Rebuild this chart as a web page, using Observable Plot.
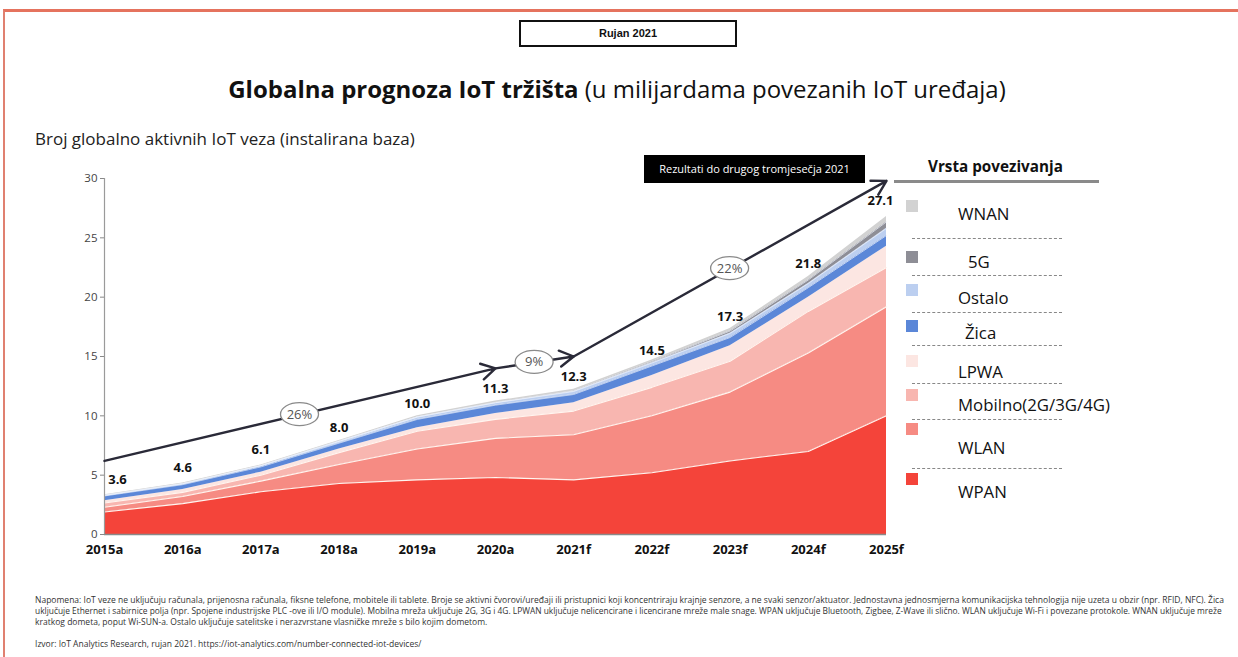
<!DOCTYPE html>
<html>
<head>
<meta charset="utf-8">
<script src="https://cdn.jsdelivr.net/npm/d3@7"></script>
<script src="https://cdn.jsdelivr.net/npm/@observablehq/plot@0.6"></script>
<style>
  html, body { margin: 0; padding: 0; background: #fff; }
  #page { position: relative; width: 1238px; height: 657px; overflow: hidden; font-family: "Open Sans", "Noto Sans", sans-serif; color: #111; }
  .abs { position: absolute; white-space: nowrap; }
  #frame { position: absolute; left: 3px; top: 9px; width: 1240px; height: 660px; border-top: 3px solid #e5735e; border-left: 2px solid #e08070; box-sizing: border-box; }
  #date { left: 519px; top: 20px; width: 218px; height: 27px; border: 2px solid #111; box-sizing: border-box; text-align: center; font-size: 11px; font-weight: bold; line-height: 23px; font-family: "Liberation Sans Narrow", "Liberation Sans", sans-serif; }
  #title { top: 72px; font-size: 24px; }
  #title b { font-weight: bold; }
  #subtitle { left: 35px; top: 127px; font-size: 15px; color: #222; }
  #note { left: 644px; top: 155px; width: 221px; height: 28px; background: #000; color: #fff; font-size: 11px; text-align: center; line-height: 28px; }
  #legtitle { top: 156px; font-size: 15px; font-weight: bold; }
  #legline { left: 894px; top: 180px; width: 205px; height: 3px; background: #8a8a8a; }
  .sq { position: absolute; width: 12px; height: 12px; left: 906px; }
  .lab { position: absolute; font-size: 16.8px; color: #111; white-space: nowrap; transform: translateY(-50%); }
  .dash { position: absolute; left: 912px; width: 150px; border-top: 1px dashed #888; height: 0; }
  .foot { position: absolute; left: 35px; font-size: 8px; color: #333; white-space: nowrap; font-family: "Open Sans", sans-serif; }
  #chart { position: absolute; left: 0; top: 160px; }
</style>
</head>
<body>
<div id="page">
  <div id="frame"></div>
  <div id="date" class="abs">Rujan 2021</div>
  <div id="title" class="abs"><b>Globalna prognoza IoT tržišta</b> (u milijardama povezanih IoT uređaja)</div>
  <div id="subtitle" class="abs">Broj globalno aktivnih IoT veza (instalirana baza)</div>
  <div id="chart"></div>
  <div id="note" class="abs">Rezultati do drugog tromjesečja 2021</div>
  <div id="legtitle" class="abs">Vrsta povezivanja</div>
  <div id="legline" class="abs"></div>
  <div id="legend"></div>
  <div id="footer"></div>
</div>
<script>
// ---------- data ----------
const years = ["2015a","2016a","2017a","2018a","2019a","2020a","2021f","2022f","2023f","2024f","2025f"];
const totals = [3.6, 4.6, 6.1, 8.0, 10.0, 11.3, 12.3, 14.5, 17.3, 21.8, 27.1];

const WPAN    = [1.9, 2.6, 3.6, 4.3, 4.6, 4.8, 4.6, 5.2, 6.2, 7.0, 10.0];
const WLAN    = [0.4, 0.6, 0.9, 1.6, 2.6, 3.3, 3.8, 4.8, 5.8, 8.3, 9.2];
const Mobilno = [0.35, 0.35, 0.5, 1.0, 1.5, 1.6, 2.0, 2.4, 2.6, 3.5, 3.3];
const LPWA    = [0.2, 0.25, 0.25, 0.3, 0.3, 0.5, 0.7, 1.0, 1.3, 1.2, 1.8];
const Zica    = [0.4, 0.4, 0.45, 0.5, 0.7, 0.7, 0.7, 0.8, 0.7, 0.8, 0.9];
const Ostalo  = [0.05, 0.08, 0.1, 0.15, 0.2, 0.2, 0.25, 0.25, 0.35, 0.35, 0.6];
const G5      = [0, 0, 0, 0, 0, 0.02, 0.05, 0.1, 0.2, 0.3, 0.55];
const WNAN    = [0.05, 0.05, 0.05, 0.08, 0.1, 0.12, 0.15, 0.15, 0.2, 0.3, 0.45];

const seriesNames  = ["WPAN", "WLAN", "Mobilno(2G/3G/4G)", "LPWA", "Žica", "Ostalo", "5G", "WNAN"];
const seriesValues = [WPAN, WLAN, Mobilno, LPWA, Zica, Ostalo, G5, WNAN];
const seriesColors = ["#f4443a", "#f68b83", "#f8b6b0", "#fce6e2", "#5b87d8", "#bccff0", "#8e8e96", "#d2d2d2"];

// trend arrow (index of year, value)
const trendX = [0, 5, 6, 10];
const trendY = [6.2, 14.0, 15.0, 29.8];
const growth = ["26%", "9%", "22%"];

const yTicks = [0, 5, 10, 15, 20, 25, 30];

const footLines = [
  "Napomena: IoT veze ne uključuju računala, prijenosna računala, fiksne telefone, mobitele ili tablete. Broje se aktivni čvorovi/uređaji ili pristupnici koji koncentriraju krajnje senzore, a ne svaki senzor/aktuator. Jednostavna jednosmjerna komunikacijska tehnologija nije uzeta u obzir (npr. RFID, NFC). Žica",
  "uključuje Ethernet i sabirnice polja (npr. Spojene industrijske PLC -ove ili I/O module). Mobilna mreža uključuje 2G, 3G i 4G. LPWAN uključuje nelicencirane i licencirane mreže male snage. WPAN uključuje Bluetooth, Zigbee, Z-Wave ili slično. WLAN uključuje Wi-Fi i povezane protokole. WNAN uključuje mreže",
  "kratkog dometa, poput Wi-SUN-a. Ostalo uključuje satelitske i nerazvrstane vlasničke mreže s bilo kojim dometom.",
  "Izvor: IoT Analytics Research, rujan 2021. https://iot-analytics.com/number-connected-iot-devices/"
];

// ---------- build tidy table ----------
const tidy = [];
seriesNames.forEach((name, s) => {
  seriesValues[s].forEach((v, i) => tidy.push({i, type: name, value: v}));
});
// cumulative tops for separator lines
const tops = [];
seriesNames.forEach((name, s) => {
  years.forEach((_, i) => {
    let c = 0;
    for (let k = 0; k <= s; k++) c += seriesValues[k][i];
    tops.push({i, type: name, s, top: c});
  });
});
const totalRows = totals.map((t, i) => ({i, t}));
const arrows = trendX.slice(0, -1).map((x, k) => ({x1: x, y1: trendY[k], x2: trendX[k + 1], y2: trendY[k + 1]}));
const growthRows = growth.map((g, k) => ({
  g,
  x: (trendX[k] + trendX[k + 1]) / 2,
  y: (trendY[k] + trendY[k + 1]) / 2
}));

const ellipseMark = (index, scales) => {
  const g = d3.create("svg:g");
  growthRows.forEach(d => {
    const cx = scales.x(d.x), cy = scales.y(d.y);
    g.append("ellipse").attr("cx", cx).attr("cy", cy).attr("rx", 19).attr("ry", 11.5)
      .attr("fill", "#fff").attr("stroke", "#8a8a8a").attr("stroke-width", 1.3);
    g.append("text").attr("x", cx).attr("y", cy).attr("dy", "0.35em").attr("text-anchor", "middle")
      .attr("font-size", 13).attr("fill", "#555").attr("font-family", "Open Sans, sans-serif").text(d.g);
  });
  return g.node();
};

const chart = Plot.plot({
  width: 930,
  height: 420,
  marginLeft: 104,
  marginRight: 44,
  marginTop: 18,
  marginBottom: 46,
  style: {fontFamily: "Open Sans, sans-serif", fontSize: "11.5px", color: "#333", background: "transparent", overflow: "visible"},
  x: {domain: [0, 10], ticks: d3.range(11), tickFormat: i => years[i], tickSize: 0, tickPadding: 10, label: null},
  y: {domain: [0, 30], ticks: yTicks, tickSize: 4, tickPadding: 3, label: null},
  color: {domain: seriesNames, range: seriesColors},
  marks: [
    Plot.areaY(tidy, {x: "i", y: "value", z: "type", fill: "type", order: seriesNames}),
    Plot.lineY(tops.filter(d => d.s <= 2), {x: "i", y: "top", z: "type", stroke: "#fff6f0", strokeWidth: 1.1}),
    Plot.lineY(tops.filter(d => d.s >= 4 && d.s <= 6), {x: "i", y: "top", z: "type", stroke: "#eef2fa", strokeWidth: 0.7}),
    Plot.ruleY([0], {stroke: "#8a8a8a", strokeWidth: 1.5}),
    Plot.ruleX([0], {stroke: "#9a9a9a", strokeWidth: 1.2}),
    Plot.arrow(arrows, {x1: "x1", y1: "y1", x2: "x2", y2: "y2", stroke: "#2a2a38", strokeWidth: 2.4, headLength: 10, bend: 0}),
    ellipseMark,
    Plot.text(totalRows.filter(d => d.i === 0), {x: "i", y: "t", text: d => d.t.toFixed(1), dy: -12, dx: 13, fontWeight: "bold", fontSize: 13, fill: "#111"}),
    Plot.text(totalRows.filter(d => d.i > 0 && d.i < 10), {x: "i", y: "t", text: d => d.t.toFixed(1), dy: -12, fontWeight: "bold", fontSize: 13, fill: "#111"}),
    Plot.text(totalRows.filter(d => d.i === 10), {x: "i", y: "t", text: d => d.t.toFixed(1), dy: -12, dx: -6, fontWeight: "bold", fontSize: 13, fill: "#111"})
  ]
});
document.getElementById("chart").appendChild(chart);
d3.select(chart).selectAll("g[aria-label^='x-axis'] text").attr("font-weight", "bold").attr("font-size", 13).attr("fill", "#111");
d3.select(chart).selectAll("g[aria-label^='y-axis'] text").attr("fill", "#444");
d3.select(chart).selectAll("g[aria-label^='y-axis'] line, g[aria-label^='y-axis'] path").attr("stroke", "#888");

// ---------- legend (top to bottom is reversed order) ----------
const legend = document.getElementById("legend");
const legOrder = seriesNames.map((n, s) => s).reverse();
const sqTops = [200, 251, 284, 320, 355, 389, 423, 473];
const labY   = [213, 261, 297, 332, 371, 404, 447, 491];
const labX   = [958, 968, 958, 965, 958, 958, 958, 958];
const dashY  = [238, 275, 312, 345, 383, 419, 468];
legOrder.forEach((s, k) => {
  const sq = document.createElement("div");
  sq.className = "sq"; sq.style.top = sqTops[k] + "px"; sq.style.background = seriesColors[s];
  legend.appendChild(sq);
  const lb = document.createElement("div");
  lb.className = "lab"; lb.style.left = labX[k] + "px"; lb.style.top = labY[k] + "px"; lb.textContent = seriesNames[s];
  legend.appendChild(lb);
});
dashY.forEach(y => {
  const d = document.createElement("div"); d.className = "dash"; d.style.top = y + "px"; legend.appendChild(d);
});

// ---------- footer ----------
const footer = document.getElementById("footer");
const footTops = [594, 605, 616, 638];
footLines.forEach((t, k) => {
  const d = document.createElement("div"); d.className = "foot"; d.style.top = footTops[k] + "px"; d.textContent = t;
  footer.appendChild(d);
});

// ---------- fit widths ----------
function fitWidth(el, target) {
  const w = el.getBoundingClientRect().width;
  const fs = parseFloat(getComputedStyle(el).fontSize);
  el.style.fontSize = (fs * target / w) + "px";
}
const title = document.getElementById("title");
fitWidth(title, 778);
title.style.left = (617 - title.getBoundingClientRect().width / 2) + "px";
fitWidth(document.getElementById("subtitle"), 380);
const lt = document.getElementById("legtitle");
fitWidth(lt, 135); lt.style.left = "928px";
const feet = footer.querySelectorAll(".foot");
fitWidth(feet[0], 1190);
fitWidth(feet[1], 1188);
feet[2].style.fontSize = feet[0].style.fontSize;
feet[3].style.fontSize = feet[0].style.fontSize;
</script>
</body>
</html>
